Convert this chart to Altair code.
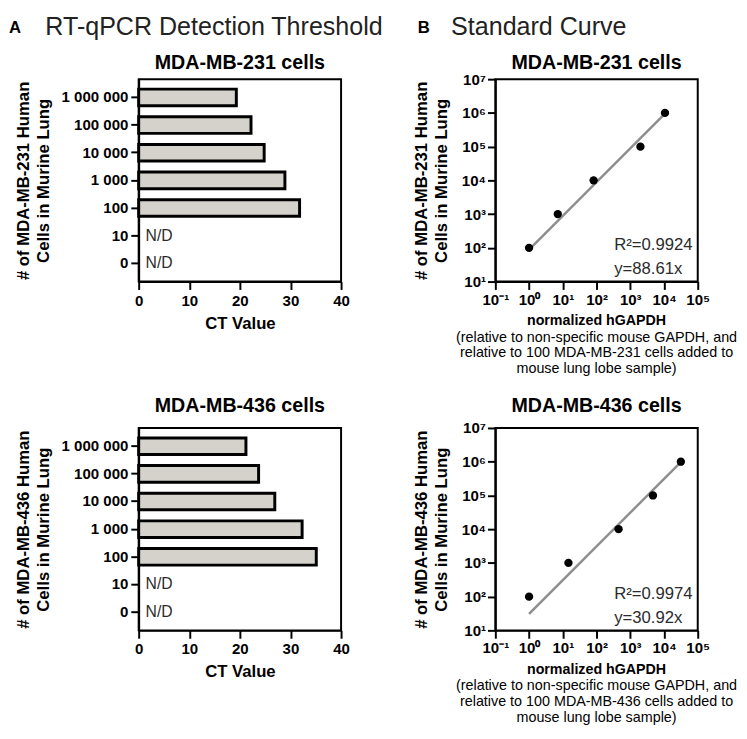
import altair as alt
import pandas as pd

# ---------------- data ----------------
cell_counts = ["1 000 000", "100 000", "10 000", "1 000", "100", "10", "0"]
ct_231 = [19.3, 22.2, 24.8, 28.9, 31.8, None, None]
ct_436 = [21.2, 23.7, 26.9, 32.3, 35.1, None, None]
nd_label = "N/D"
ct_ticks = [0, 10, 20, 30, 40]

std_cells = [1e2, 1e3, 1e4, 1e5, 1e6]
hgapdh_231 = [1.0, 7.1, 82, 2000, 10700]
hgapdh_436 = [1.0, 14.7, 450, 4700, 31600]
slope_231, r2_231 = 88.61, "0.9924"
slope_436, r2_436 = 30.92, "0.9974"
x_decades = [0.1, 1, 10, 100, 1e3, 1e4, 1e5]
y_decades = [10, 100, 1e3, 1e4, 1e5, 1e6, 1e7]

FONT = "Liberation Sans"
W, H = 206, 206
BAR_FILL = "#d5d1cb"
TXT = "#2b2b2b"

sup = {-1: "⁻¹", 0: "⁰", 1: "¹", 2: "²", 3: "³", 4: "⁴", 5: "⁵", 6: "⁶", 7: "⁷"}
e = "round(log(datum.value)/LN10)"
sup_expr = "'10' + (" + " : ".join(f"{e}=={k} ? '{v}'" for k, v in sup.items()) + " : '')"

one = pd.DataFrame({"k": [0]})


def text_layer(txt, x, y, size, weight="normal", align="left", baseline="alphabetic", color=TXT, lh=None):
    kw = dict(text=txt, fontSize=size, fontWeight=weight, align=align, baseline=baseline, color=color, font=FONT)
    if lh is not None:
        kw["lineHeight"] = lh
    return alt.Chart(one).mark_text(**kw).encode(x=alt.value(x), y=alt.value(y))


def bar_panel(ct, line, title, toff, header=None):
    df = pd.DataFrame({"cells": cell_counts, "ct": ct})
    df["nd"] = [nd_label if (v is None or pd.isna(v)) else "" for v in ct]
    yenc = alt.Y(
        "cells:N",
        scale=alt.Scale(domain=cell_counts, paddingInner=0.4, paddingOuter=0.36),
        axis=alt.Axis(
            title=["# of " + line + " Human", "Cells in Murine Lung"],
            titleLineHeight=20,
            titlePadding=9,
            labelPadding=3,
        ),
    )
    xenc = alt.X(
        "ct:Q",
        scale=alt.Scale(domain=[0, 40], nice=False),
        axis=alt.Axis(values=ct_ticks, title="CT Value", labelPadding=4, titlePadding=7),
    )
    bars = (
        alt.Chart(df)
        .transform_filter("isValid(datum.ct)")
        .mark_bar(fill=BAR_FILL, stroke="black", strokeWidth=3)
        .encode(x=xenc, y=yenc)
    )
    nd = (
        alt.Chart(df)
        .transform_filter("!isValid(datum.ct)")
        .mark_text(align="left", dx=7, fontSize=16, color=TXT, font=FONT)
        .encode(x=alt.datum(0), y=alt.Y("cells:N"), text="nd:N")
    )
    layers = [bars, nd,
              text_layer(title, W / 2, -toff, 20, weight="bold", align="center", color="black")]
    if header:
        layers += [
            text_layer("A", -132, -47, 17, weight="bold", color="black"),
            text_layer(header, -95, -45, 25.5, color="#222"),
        ]
    return alt.layer(*layers).properties(width=W, height=H)


def std_panel(hg, slope, r2, line, title, toff, header=None):
    df = pd.DataFrame({"hg": hg, "cells": std_cells})
    xs = alt.Scale(type="log", domain=[0.1, 1e5], nice=False)
    ys = alt.Scale(type="log", domain=[10, 1e7], nice=False)
    xenc = alt.X(
        "hg:Q", scale=xs,
        axis=alt.Axis(values=x_decades, labelExpr=sup_expr, title=None, labelPadding=3),
    )
    yenc = alt.Y(
        "cells:Q", scale=ys,
        axis=alt.Axis(
            values=y_decades, labelExpr=sup_expr,
            title=["# of " + line + " Human", "Cells in Murine Lung"],
            titleLineHeight=20, titlePadding=11, labelPadding=2,
        ),
    )
    fit_df = pd.DataFrame({"hg": [min(hg), max(hg)]})
    fit = (
        alt.Chart(fit_df)
        .transform_calculate(cells=f"{slope}*datum.hg")
        .mark_line(color="#8e8e8e", strokeWidth=2.5)
        .encode(x=xenc, y=yenc)
    )
    pts = alt.Chart(df).mark_circle(size=72, color="black", opacity=1).encode(x="hg:Q", y="cells:Q")
    layers = [
        fit,
        pts,
        text_layer(title, W / 2, -toff, 20, weight="bold", align="center", color="black"),
        text_layer("R²=" + r2, 121, H - 37, 17, baseline="middle"),
        text_layer(f"y={slope}x", 121, H - 13, 17, baseline="middle"),
        text_layer("normalized hGAPDH", W / 2, H + 40, 14.5, weight="bold", align="center",
                   baseline="middle", color="black"),
        text_layer(
            ["(relative to non-specific mouse GAPDH, and",
             f"relative to 100 {line} cells added to",
             "mouse lung lobe sample)"],
            W / 2, H + 49, 14.6, align="center", baseline="top", color="black", lh=16,
        ),
    ]
    if header:
        layers += [
            text_layer("B", -79, -47, 17, weight="bold", color="black"),
            text_layer(header, -45, -45, 25.5, color="#222"),
        ]
    return alt.layer(*layers).properties(width=W, height=H)


tl = bar_panel(ct_231, "MDA-MB-231", "MDA-MB-231 cells", 10, header="RT-qPCR Detection Threshold")
tr = std_panel(hgapdh_231, slope_231, r2_231, "MDA-MB-231", "MDA-MB-231 cells", 10, header="Standard Curve")
bl = bar_panel(ct_436, "MDA-MB-436", "MDA-MB-436 cells", 16)
br = std_panel(hgapdh_436, slope_436, r2_436, "MDA-MB-436", "MDA-MB-436 cells", 16)

chart = (
    alt.concat(tl, tr, bl, br, columns=2, spacing={"row": 149, "column": 157}, bounds="flush")
    .properties(padding=0)
    .configure(font=FONT)
    .configure_view(stroke="black", strokeWidth=2)
    .configure_axis(
        grid=False,
        domainColor="black", domainWidth=2,
        tickColor="black", tickWidth=2, tickSize=8,
        labelFont=FONT, labelFontSize=15.3, labelFontWeight="bold", labelColor="black",
        labelOverlap=False, labelFlush=False,
        titleFont=FONT, titleFontSize=17, titleFontWeight="bold", titleColor="black",
    )
)

chart.save("out.html", embed_options={"renderer": "svg", "actions": False})
